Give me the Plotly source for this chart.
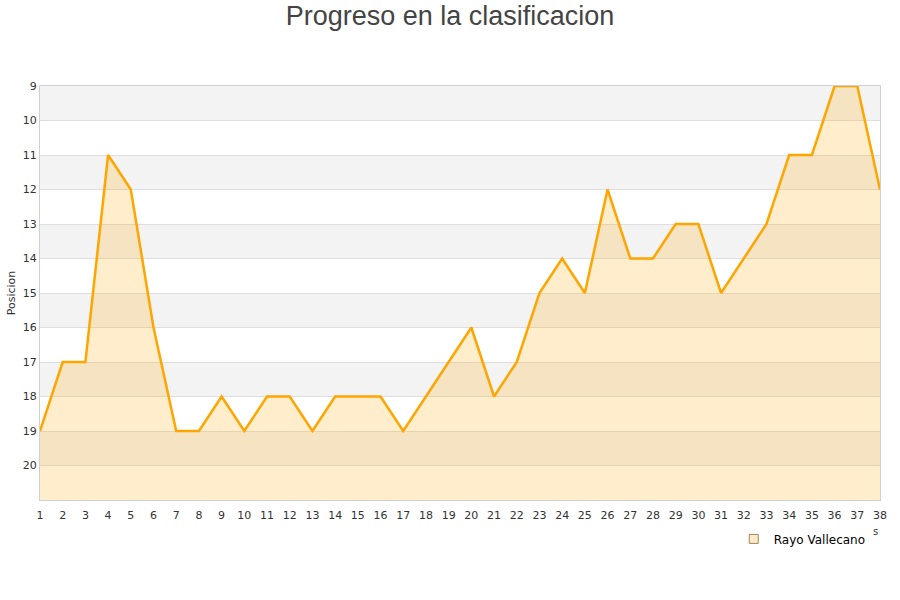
import plotly.graph_objects as go

jornadas = list(range(1, 39))
posiciones = [19, 17, 17, 11, 12, 16, 19, 19, 18, 19, 18, 18, 19, 18, 18, 18, 19, 18, 17, 16,
              18, 17, 15, 14, 15, 12, 14, 14, 13, 13, 15, 14, 13, 11, 11, 9, 9, 12]
equipo = "Rayo Vallecano"
y_ticks = list(range(9, 21))
y_min, y_max = 9, 21

fig = go.Figure()

# alternating bands
for k in range(y_min, y_max, 2):
    fig.add_shape(type="rect", xref="paper", yref="y", x0=0, x1=1, y0=k, y1=k + 1,
                  fillcolor="#f3f3f3", line_width=0, layer="below")

fig.add_trace(go.Scatter(x=jornadas, y=[y_max] * len(jornadas), mode="lines",
                         line=dict(width=0), showlegend=False, hoverinfo="skip"))
fig.add_trace(go.Scatter(x=jornadas, y=posiciones, mode="lines", fill="tonexty",
                         fillcolor="rgba(255,165,0,0.2)",
                         line=dict(color="#ffa500", width=2.5), showlegend=False,
                         name=equipo))
fig.add_trace(go.Scatter(x=[None], y=[None], mode="markers", name=equipo,
                         marker=dict(symbol="square", size=9, color="#fde9c6",
                                     line=dict(color="#a08660", width=1))))

fig.add_annotation(text="s", xref="paper", yref="paper", x=1.0, y=-0.075,
                   yanchor="middle", showarrow=False, font=dict(size=10, color="#333"))

fig.update_layout(
    width=900, height=600,
    margin=dict(l=40, r=20, t=86, b=100, autoexpand=False),
    paper_bgcolor="white", plot_bgcolor="white",
    font=dict(family="DejaVu Sans", size=11, color="#333"),
    title=dict(text="Progreso en la clasificacion", x=0.5, xanchor="center",
               y=1 - 16 / 600, yanchor="middle",
               font=dict(family="Liberation Sans", size=27, color="#444")),
    xaxis=dict(range=[1, 38], tickmode="array", tickvals=jornadas, ticktext=[str(j) for j in jornadas],
               showgrid=False, zeroline=False, showline=True, linecolor="#d0d0d0", linewidth=1,
               mirror=True, ticks="", tickfont=dict(size=11, color="#333"), automargin=False,
               ticklabelstandoff=5),
    yaxis=dict(range=[y_max, y_min], tickmode="array", tickvals=y_ticks,
               ticktext=[str(t) for t in y_ticks], showgrid=True, gridcolor="#dedede",
               zeroline=False, showline=True, linecolor="#d0d0d0", linewidth=1, mirror=True,
               ticks="", tickfont=dict(size=11, color="#333"), automargin=False,
               title=dict(text="Posicion", font=dict(size=11, color="#333"), standoff=4)),
    legend=dict(x=0.989, xanchor="right", y=-0.094, yanchor="middle", orientation="h",
                font=dict(size=12, color="#000"), bgcolor="rgba(0,0,0,0)", itemwidth=30),
    showlegend=True,
)

fig.write_html("out.html", config={"displayModeBar": False},
               post_script="document.body.style.margin='0';")
